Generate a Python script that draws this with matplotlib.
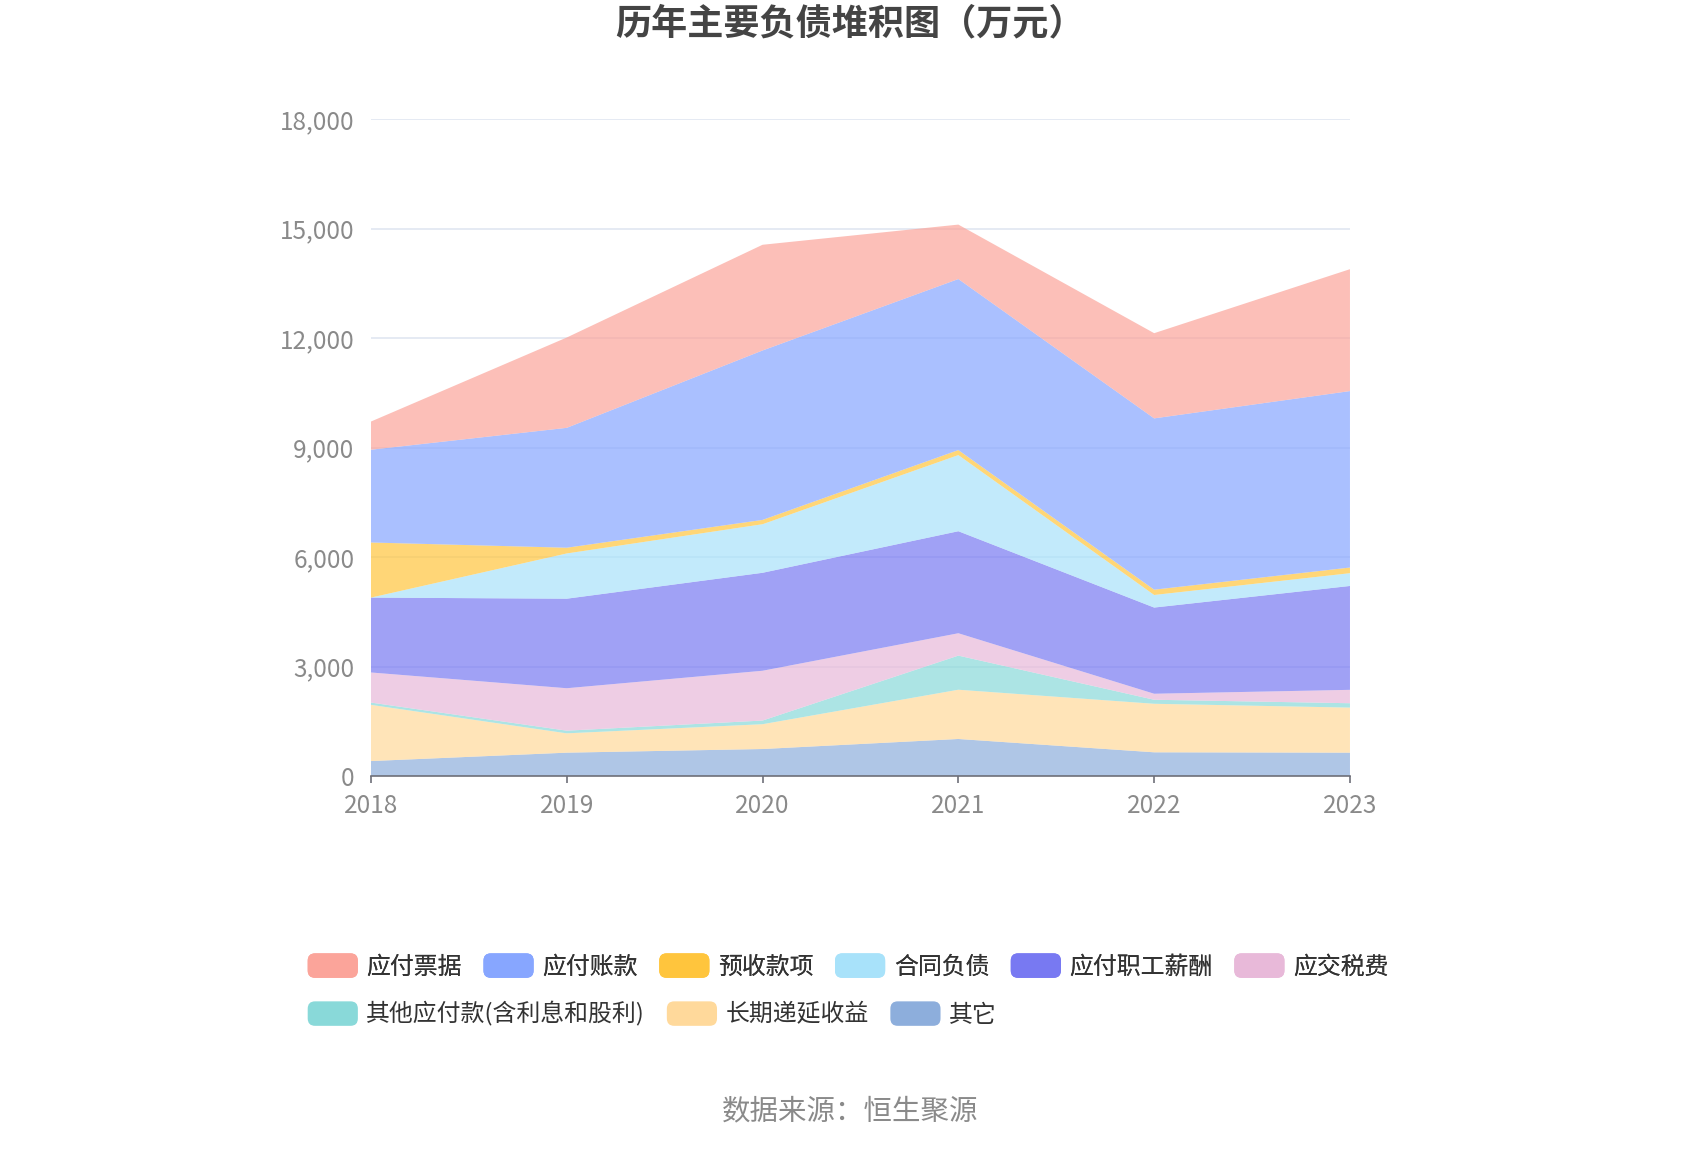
import matplotlib
matplotlib.use("Agg")
import matplotlib.pyplot as plt
from matplotlib.patches import FancyBboxPatch, Patch
from matplotlib.legend_handler import HandlerPatch
from matplotlib.ticker import FuncFormatter

plt.rcParams['font.family'] = ['Noto Sans CJK SC', 'DejaVu Sans']

years = [2018, 2019, 2020, 2021, 2022, 2023]

# 万元 (bottom of stack first)
qita = [410, 640, 740, 1015, 650, 640]
changqi_diyan = [1540, 530, 680, 1350, 1330, 1235]
qita_yingfu = [63, 73, 100, 935, 110, 120]
yingjiao_shuifei = [825, 1163, 1365, 613, 165, 367]
yingfu_zhigong = [2052, 2454, 2685, 2796, 2362, 2847]
hetong_fuzhai = [0, 1240, 1331, 2087, 345, 350]
yushou = [1510, 157, 118, 137, 145, 155]
yingfu_zhangkuan = [2543, 3286, 4644, 4688, 4695, 4836]
yingfu_piaoju = [772, 2475, 2897, 1492, 2335, 3341]

names = ['应付票据', '应付账款', '预收款项', '合同负债', '应付职工薪酬', '应交税费',
         '其他应付款(含利息和股利)', '长期递延收益', '其它']
colors = ['#FBA49A', '#87A6FF', '#FFC53D', '#A8E2FA', '#7879F2', '#E8B9D9',
          '#89D9D9', '#FFD99B', '#8DAEDC']
series = [yingfu_piaoju, yingfu_zhangkuan, yushou, hetong_fuzhai, yingfu_zhigong,
          yingjiao_shuifei, qita_yingfu, changqi_diyan, qita]


class RoundHandler(HandlerPatch):
    def create_artists(self, legend, orig_handle, xdescent, ydescent,
                       width, height, fontsize, trans):
        p = FancyBboxPatch((-xdescent, -ydescent), width, height,
                           boxstyle="round,pad=0,rounding_size=%f" % (height * 0.3),
                           facecolor=orig_handle.get_facecolor(),
                           edgecolor='none', transform=trans)
        return [p]


fig = plt.figure(figsize=(17, 11.5), dpi=100)
ax = fig.add_axes([0.2182, 0.3252, 0.5759, 0.5711])

# stack from bottom up
ax.stackplot(years, *series[::-1], colors=colors[::-1], alpha=0.7, linewidth=0)

ax.set_xlim(2018, 2023)
ax.set_ylim(0, 18000)
ax.set_yticks(range(0, 18001, 3000))
ax.yaxis.set_major_formatter(FuncFormatter(lambda v, p: f"{int(v):,}"))
ax.set_xticks(years)
ax.grid(axis='y', color='#E0E6F1', linewidth=1.2)
ax.set_axisbelow(True)
for s in ['left', 'right', 'top']:
    ax.spines[s].set_visible(False)
ax.spines['bottom'].set_color('#6E7079')
ax.spines['bottom'].set_linewidth(1.2)
ax.tick_params(axis='y', length=0, pad=12, labelsize=17.5, labelcolor='#8A8A8A')
ax.tick_params(axis='x', length=5, width=1.2, color='#6E7079', pad=7,
               labelsize=17.5, labelcolor='#8A8A8A')

fig.text(0.5, 1 - 24 / 1150, '历年主要负债堆积图（万元）', ha='center', va='center',
         fontsize=26, fontweight='bold', color='#444444')

handles = [Patch(facecolor=c) for c in colors]
leg_kw = dict(loc='center left', frameon=False, fontsize=17.2, handlelength=2.1,
              handleheight=1.2, handletextpad=0.36, columnspacing=0.9,
              borderpad=0, borderaxespad=0, handler_map={Patch: RoundHandler()})
leg1 = fig.legend(handles[:6], names[:6], bbox_to_anchor=(0.181, 1 - 966 / 1150),
                  ncol=6, **leg_kw)
for t in leg1.get_texts():
    t.set_color('#333333')
leg2 = fig.legend(handles[6:], names[6:], bbox_to_anchor=(0.181, 1 - 1014 / 1150),
                  ncol=3, **leg_kw)
for t in leg2.get_texts():
    t.set_color('#333333')
fig.add_artist(leg1)

fig.text(0.5, 1 - 1111 / 1150, '数据来源：恒生聚源', ha='center', va='center',
         fontsize=20.5, color='#8A8A8A')

fig.savefig('out.png', dpi=100)
